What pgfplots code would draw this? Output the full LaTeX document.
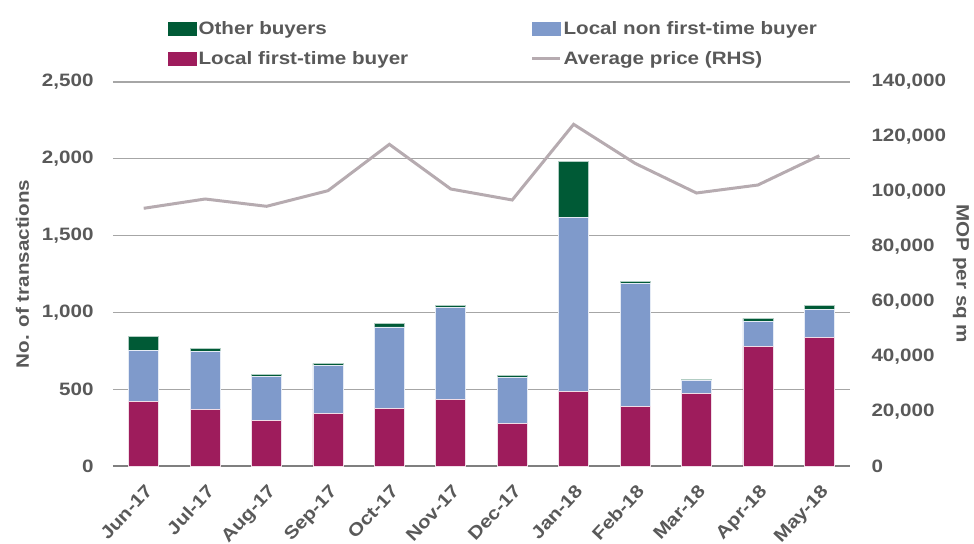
\documentclass[border=0pt]{standalone}
\usepackage{pgfplots}
\pgfplotsset{compat=1.18}
\usepackage{fontspec}
\setmainfont{Liberation Sans}[FakeStretch=1.15]
\definecolor{otherc}{HTML}{005A36}
\definecolor{nonftb}{HTML}{7F9ACB}
\definecolor{ftb}{HTML}{9E1C5C}
\definecolor{pricec}{HTML}{B6ABB0}
\definecolor{txt}{HTML}{595959}
\definecolor{gridc}{HTML}{A6A6A6}
\definecolor{axc}{HTML}{7F7F7F}
\newcommand{\lf}{\bfseries\fontsize{18}{20}\selectfont}
\pgfplotstableread{
x ftb nonftb other price
0 419 334 93 93950
1 367 379 20 97340
2 295 287 15 94680
3 341 312 15 100370
4 373 532 24 117280
5 432 603 13 100980
6 276 299 15 96980
7 484 1133 367 124570
8 386 801 17 110350
9 471 85 8 99530
10 777 167 17 102440
11 835 185 26 113130
}\datatable
\begin{document}
\begin{tikzpicture}
\path[use as bounding box] (-113bp,-78bp) rectangle (861bp,466bp);
\begin{axis}[
  at={(0,0)}, anchor=south west,
  scale only axis, width=737bp, height=384bp,
  xmin=-0.5, xmax=11.5, ymin=0, ymax=2500,
  ybar stacked, bar width=30bp,
  xtick=data,
  xticklabels={Jun-17,Jul-17,Aug-17,Sep-17,Oct-17,Nov-17,Dec-17,Jan-18,Feb-18,Mar-18,Apr-18,May-18},
  ytick={0,500,...,2500},
  axis x line*=bottom, axis y line*=left,
  x axis line style={draw=axc, line width=1.2bp, -},
  y axis line style={draw=none},
  major tick length=0pt,
  ymajorgrids, grid style={gridc, line width=1.2bp},
  /pgf/number format/assume math mode=true,
  /pgf/number format/fixed,
  /pgf/number format/1000 sep={,},
  scaled y ticks=false,
  tick label style={font=\lf, text=txt},
  yticklabel style={xshift=-16bp},
  xticklabel style={rotate=47, anchor=north east, xshift=-9bp, yshift=-9bp},
  ylabel={No. of transactions},
  ylabel style={font=\lf, text=txt, yshift=6bp},
  legend style={at={(0.0746,1.16)}, anchor=north west, draw=none, fill=none,
    inner sep=0pt, font=\lf, text=txt, legend columns=2,
    /tikz/column sep=0bp, /tikz/row sep=13bp,
    nodes={inner xsep=2bp, inner ysep=1bp}},
  legend cell align=left,
]
\addplot[fill=ftb, draw=white!85!ftb, line width=0.6bp, forget plot] table[x=x, y=ftb] {\datatable};
\addplot[fill=nonftb, draw=white!80!nonftb, line width=0.6bp, forget plot] table[x=x, y=nonftb] {\datatable};
\addplot[fill=otherc, draw=white!70!otherc, line width=0.6bp, forget plot] table[x=x, y=other] {\datatable};
\addlegendimage{legend image code/.code={\fill[otherc] (0bp,-6.5bp) rectangle (28bp,6.5bp);}}
\addlegendentry{\makebox[330bp][l]{Other buyers}}
\addlegendimage{legend image code/.code={\fill[nonftb] (0bp,-6.5bp) rectangle (28bp,6.5bp);}}
\addlegendentry{Local non first-time buyer}
\addlegendimage{legend image code/.code={\fill[ftb] (0bp,-6.5bp) rectangle (28bp,6.5bp);}}
\addlegendentry{\makebox[330bp][l]{Local first-time buyer}}
\addlegendimage{legend image code/.code={\draw[pricec, line width=3bp] (0bp,0bp) -- (28bp,0bp);}}
\addlegendentry{Average price (RHS)}
\end{axis}
\begin{axis}[
  at={(0,0)}, anchor=south west,
  scale only axis, width=737bp, height=384bp,
  xmin=-0.5, xmax=11.5, ymin=0, ymax=140000,
  ytick={0,20000,...,140000},
  axis y line*=right, axis x line=none,
  y axis line style={draw=none},
  major tick length=0pt,
  /pgf/number format/assume math mode=true,
  /pgf/number format/fixed,
  /pgf/number format/1000 sep={,},
  scaled y ticks=false,
  tick label style={font=\lf, text=txt},
  yticklabel style={xshift=18bp},
  ylabel={MOP per sq m},
  ylabel style={font=\lf, text=txt, rotate=180},
]
\addplot[pricec, line width=3bp, no markers] table[x=x, y=price] {\datatable};
\end{axis}
\end{tikzpicture}
\end{document}
